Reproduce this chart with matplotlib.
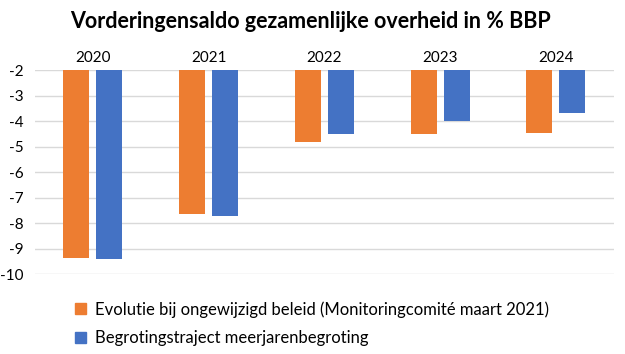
import matplotlib
matplotlib.use("Agg")
import matplotlib.pyplot as plt
from matplotlib.patches import Patch
import numpy as np

years = ["2020", "2021", "2022", "2023", "2024"]
evolutie = [-9.35, -7.62, -4.80, -4.48, -4.44]
begroting = [-9.40, -7.70, -4.48, -3.97, -3.66]
series_names = ["Evolutie bij ongewijzigd beleid (Monitoringcomité maart 2021)",
                "Begrotingstraject meerjarenbegroting"]
colors = ["#ED7D31", "#4472C4"]
yticks = [-2, -3, -4, -5, -6, -7, -8, -9, -10]

plt.rcParams['font.family'] = ['Lato', 'DejaVu Sans']

fig = plt.figure(figsize=(6.25, 3.54), dpi=100)
ax = fig.add_axes([0.056, 0.225, 0.926, 0.576])

x = np.arange(len(years))
w = 0.225
off = 0.1425
base = -2
ax.bar(x - off, np.array(evolutie) - base, bottom=base, width=w, color=colors[0], zorder=3)
ax.bar(x + off, np.array(begroting) - base, bottom=base, width=w, color=colors[1], zorder=3)

ax.set_xlim(-0.5, len(years) - 0.5)
ax.set_ylim(-10, -2)
ax.set_yticks(yticks)
ax.set_yticklabels([str(t) for t in yticks], fontsize=11)
ax.yaxis.grid(True, color="#D9D9D9", linewidth=1, zorder=0)
ax.tick_params(axis='y', length=0, pad=8)
ax.xaxis.tick_top()
ax.set_xticks(x)
ax.set_xticklabels(years, fontsize=11)
ax.tick_params(axis='x', length=0, pad=4)
for s in ax.spines.values():
    s.set_visible(False)

fig.text(0.497, 0.94, "Vorderingensaldo gezamenlijke overheid in % BBP",
         ha='center', va='center', fontsize=15.5, fontweight='bold')

handles = [Patch(color=c) for c in colors]
fig.legend(handles, series_names, loc='upper left', bbox_to_anchor=(0.11, 0.168),
           frameon=False, fontsize=12, handlelength=0.65, handleheight=0.65,
           handletextpad=0.55, labelspacing=0.75, borderaxespad=0)

fig.savefig("out.png", dpi=100)
